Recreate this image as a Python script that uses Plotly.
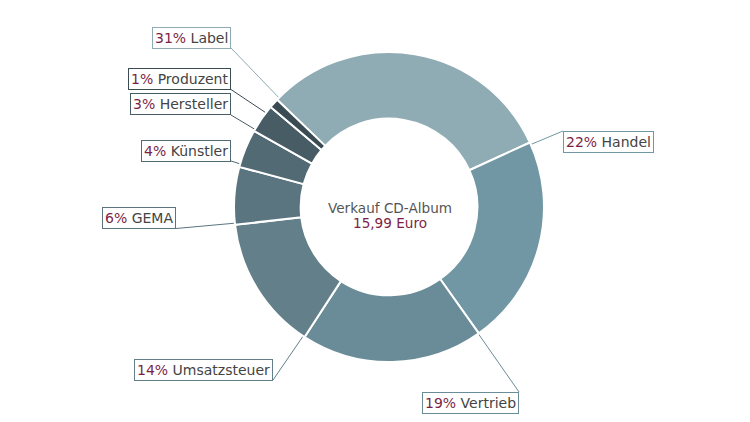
import math
import plotly.graph_objects as go

# ---- data ----
labels = ["Label", "Handel", "Vertrieb", "Umsatzsteuer", "GEMA", "Künstler", "Hersteller", "Produzent"]
values = [31, 22, 19, 14, 6, 4, 3, 1]
colors = ["#8FABB4", "#7097A3", "#6A8C98", "#627F8A", "#5A7580", "#526A74", "#485C66", "#3A4B54"]
center_title = "Verkauf CD-Album"
center_value = "15,99 Euro"

# ---- layout constants ----
W, H = 750, 422
OFF = 8  # page body margin
CX, CY, R = 389, 207, 155
HOLE = 0.57
ROT = -46.2
PCT_COLOR = "#7D1F45"
TXT_COLOR = "#444444"
FONT = "DejaVu Sans"
BOX_H = 21

# label boxes: (x px, y-center px, xanchor, corner where leader line meets)
boxes = {
    "Label":        (231, 37.5, "right", "br"),
    "Handel":       (563, 141.5, "left", "tl"),
    "Vertrieb":     (519, 402.5, "right", "tr"),
    "Umsatzsteuer": (273, 369.5, "right", "br"),
    "GEMA":         (176, 218, "right", "br"),
    "Künstler":     (231, 150.5, "right", "br"),
    "Hersteller":   (231, 104.5, "right", "br"),
    "Produzent":    (231, 79, "right", "br"),
}


def px(x):
    return (x - OFF) / W


def py(y):
    return 1 - (y - OFF) / H


fig = go.Figure()
fig.add_trace(go.Pie(
    labels=labels, values=values, sort=False, direction="clockwise",
    rotation=ROT, hole=HOLE, textinfo="none", hoverinfo="label+percent",
    marker=dict(colors=colors, line=dict(color="white", width=2)),
    domain=dict(x=[px(CX - R), px(CX + R)], y=[py(CY + R), py(CY - R)]),
    showlegend=False,
))

total = sum(values)
shapes = []
annotations = []
cum = 0
r_in = R * HOLE
for name, v, col in zip(labels, values, colors):
    a = math.radians(ROT + 360 * cum / total)
    cum += v
    sx = CX + r_in * math.sin(a)
    sy = CY - r_in * math.cos(a)
    bx, by, xanc, corner = boxes[name]
    ey = by + BOX_H / 2 if corner[0] == "b" else by - BOX_H / 2
    shapes.append(dict(type="line", xref="paper", yref="paper", layer="below",
                       x0=px(sx), y0=py(sy), x1=px(bx), y1=py(ey),
                       line=dict(color=col, width=1)))
    annotations.append(dict(
        xref="paper", yref="paper", x=px(bx), y=py(by), xanchor=xanc, yanchor="middle",
        text=f"<span style='color:{PCT_COLOR}'>{round(100 * v / total)}%</span> {name}",
        showarrow=False, bgcolor="white", bordercolor=col, borderwidth=1, borderpad=2,
        font=dict(family=FONT, size=14, color=TXT_COLOR),
    ))

annotations.append(dict(xref="paper", yref="paper", x=px(CX + 1), y=py(208), text=center_title,
                        showarrow=False, xanchor="center", yanchor="middle",
                        font=dict(family=FONT, size=13.6, color="#555555")))
annotations.append(dict(xref="paper", yref="paper", x=px(CX + 1), y=py(223), text=center_value,
                        showarrow=False, xanchor="center", yanchor="middle",
                        font=dict(family=FONT, size=13.6, color=PCT_COLOR)))

fig.update_layout(
    width=W, height=H, margin=dict(l=0, r=0, t=0, b=0),
    paper_bgcolor="white", plot_bgcolor="white",
    shapes=shapes, annotations=annotations,
)
fig.write_html("out.html")
